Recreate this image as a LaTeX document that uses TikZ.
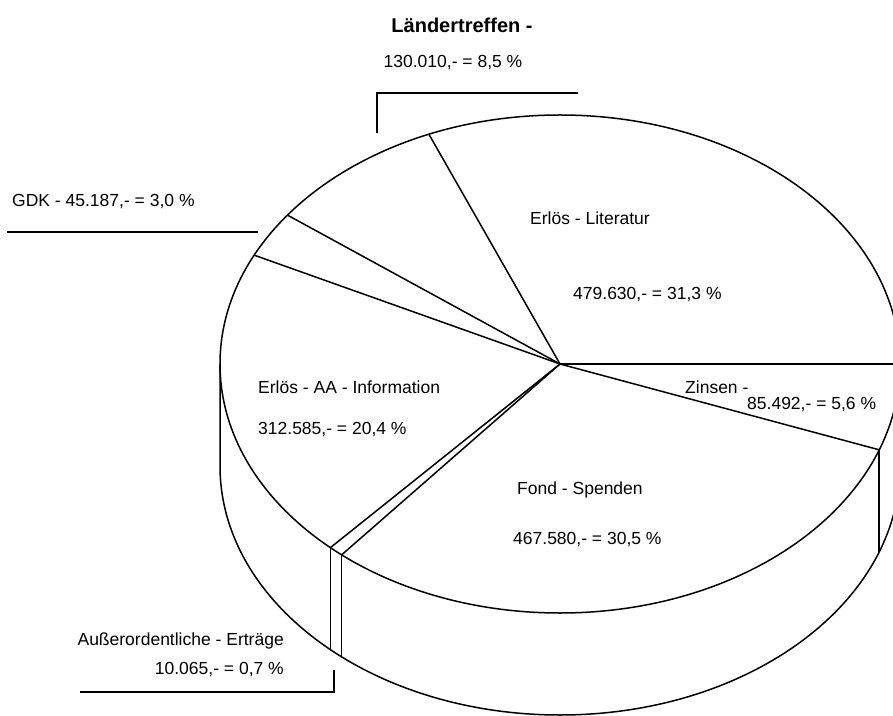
\documentclass[tikz,border=0pt]{standalone}
\usepackage{fontspec}
\setmainfont{Liberation Sans}

\tikzset{
  lbl/.style={inner sep=0pt, font=\fontsize{17.5}{20}\selectfont},
  ttl/.style={inner sep=0pt, font=\fontsize{20}{24}\selectfont\bfseries},
  edge/.style={line width=1.5pt, line join=round},
  leader/.style={line width=1.5pt},
}

\begin{document}
\begin{tikzpicture}[x=1pt,y=1pt]
    \pgfmathsetmacro{\cx}{560}
    \pgfmathsetmacro{\cy}{351}
    \pgfmathsetmacro{\rx}{340}
    \pgfmathsetmacro{\ry}{249}
    \pgfmathsetmacro{\dep}{102}

    \useasboundingbox (0,0) rectangle (893,715);
    \clip (0,0) rectangle (893,715);

    % Draw the top and the side of the pie
    \coordinate (O) at (\cx,\cy);
    \coordinate (L) at (\cx-\rx,\cy);
    \coordinate (Lb) at (\cx-\rx,\cy-\dep);
    \coordinate (R) at (\cx+\rx,\cy);
    \draw [edge] (O) ellipse [x radius=\rx pt, y radius=\ry pt];
    \draw [edge] (L) -- (Lb) arc [start angle=180, end angle=360,
          x radius=\rx pt, y radius=\ry pt] -- (R);

    % Draw the slices
    \foreach \name/\ang in {lit/112.68, land/143.28, gdk/154.08, aa/227.52,
                            ao/230.04, fond/339.84, zins/360} {
      \coordinate (\name) at ({\cx+\rx*cos(\ang)},{\cy+\ry*sin(\ang)});
      \coordinate (\name b) at ({\cx+\rx*cos(\ang)},{\cy+\ry*sin(\ang)-\dep});
      \draw [edge] (O) -- (\name);
    }
    \foreach \name in {aa, ao, fond}
      \draw [edge] (\name) -- (\name b);

    % Labels on the pie
    \node [lbl, anchor=west] (litA) at (530,497) {Erlös - Literatur};
    \node [lbl, anchor=west] (litB) at (573,420) {479.630,- = 31,3 \%};
    \node [lbl, anchor=west] (aaA) at (258,328) {Erlös - AA - Information};
    \node [lbl, anchor=west] (aaB) at (258,285) {312.585,- = 20,4 \%};
    \node [lbl, anchor=west] (fondA) at (517,225) {Fond - Spenden};
    \node [lbl, anchor=west] (fondB) at (513,175) {467.580,- = 30,5 \%};
    \node [lbl, anchor=west] (zinsA) at (685,328) {Zinsen -};
    \node [lbl, anchor=west] (zinsB) at (747,310) {85.492,- = 5,6 \%};

    % Labels outside, with leaders
    \node [ttl] (landA) at (462,690) {Ländertreffen -};
    \node [lbl] (landB) at (453,652) {130.010,- = 8,5 \%};
    \coordinate (landL1) at (377,582);
    \coordinate (landL2) at (377,622);
    \coordinate (landL3) at (578,622);
    \draw [leader] (landL1) -- (landL2) -- (landL3);

    \node [lbl, anchor=west] (gdkA) at (12,513) {GDK - 45.187,- = 3,0 \%};
    \coordinate (gdkL1) at (7,483);
    \coordinate (gdkL2) at (258,483);
    \draw [leader] (gdkL1) -- (gdkL2);

    \node [lbl, anchor=east] (aoA) at (284,74) {Außerordentliche - Erträge};
    \node [lbl, anchor=east] (aoB) at (284,45) {10.065,- = 0,7 \%};
    \coordinate (aoL1) at (80,23);
    \coordinate (aoL2) at (334,23);
    \coordinate (aoL3) at (334,45);
    \draw [leader] (aoL1) -- (aoL2) -- (aoL3);

\end{tikzpicture}
\end{document}
